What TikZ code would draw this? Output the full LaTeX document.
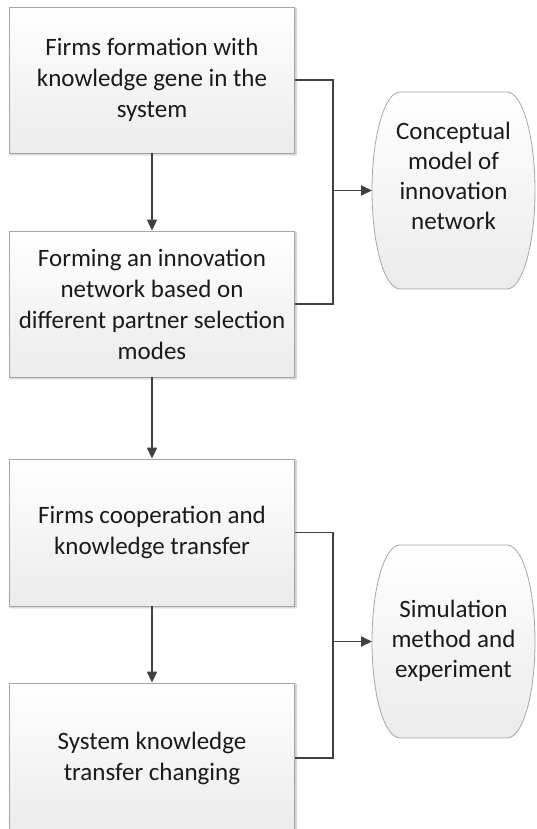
\documentclass[tikz,border=0pt]{standalone}
\usepackage{fontspec}
\setmainfont{Carlito}
\usepackage{xcolor}
\usetikzlibrary{
    arrows.meta,
    positioning,
    calc,
    shadows.blur
}
\definecolor{edge}{HTML}{A6A6A6}
\definecolor{wire}{HTML}{404040}
\definecolor{shadebot}{HTML}{EBEBEB}
\definecolor{ink}{HTML}{1A1A1A}
\tikzset{
    % Process box style
    stepbox/.style={
        rectangle,
        minimum width=285pt,
        minimum height=146pt,
        align=center,
        font=\fontsize{25}{31}\selectfont,
        text=ink,
        draw=edge,
        line width=0.8pt,
        top color=white,
        bottom color=shadebot,
        blur shadow={shadow blur steps=4, shadow xshift=1.5pt, shadow yshift=-1.5pt, shadow opacity=30}
    },
    % Result (pill) node, outline drawn separately
    result/.style={
        rectangle,
        minimum width=163pt,
        minimum height=#1,
        outer sep=0pt,
        align=center,
        font=\fontsize{25}{30}\selectfont,
        text=ink
    },
    pillfill/.style={
        draw=edge,
        line width=0.8pt,
        top color=white,
        bottom color=shadebot
    },
    % Arrow styles
    flow/.style={
        -{Triangle[length=11pt, width=10pt]},
        line width=1.8pt,
        color=wire
    },
    link/.style={
        line width=1.8pt,
        color=wire
    }
}
% curved-side outline round a result node
\newcommand\pillpath[1]{%
    ([xshift=28pt]#1.north west) -- ([xshift=-28pt]#1.north east)
    .. controls ([xshift=-12.5pt]#1.north east) and ([yshift=54pt]#1.east) .. (#1.east)
    .. controls ([yshift=-54pt]#1.east) and ([xshift=-12.5pt]#1.south east) .. ([xshift=-28pt]#1.south east)
    -- ([xshift=28pt]#1.south west)
    .. controls ([xshift=12.5pt]#1.south west) and ([yshift=-54pt]#1.west) .. (#1.west)
    .. controls ([yshift=54pt]#1.west) and ([xshift=12.5pt]#1.north west) .. cycle}

\begin{document}
\begin{tikzpicture}[x=1pt, y=-1pt]

        \clip (0,0) rectangle (536,829);

        % Process boxes
        \node[stepbox] (form) at (152, 80) {Firms formation with\\knowledge gene in the\\system};
        \node[stepbox] (net) at (152, 304) {Forming an innovation\\network based on\\different partner selection\\modes};
        \node[stepbox, minimum height=147pt] (coop) at (152, 532.5) {Firms cooperation and\\knowledge transfer};
        \node[stepbox, minimum height=150pt] (change) at (152, 758) {System knowledge\\transfer changing};

        % Results
        \node[result=197pt] (concept) at (453.5, 190.5) {};
        \node[result=193pt] (simu) at (453.5, 641.5) {};
        \path[pillfill] \pillpath{concept};
        \path[pillfill] \pillpath{simu};
        \node[font=\fontsize{25}{30}\selectfont, text=ink, align=center] (concepttext) at (453.5, 176) {Conceptual\\model of\\innovation\\network};
        \node[font=\fontsize{25}{30}\selectfont, text=ink, align=center] (simutext) at (453.5, 641) {Simulation\\method and\\experiment};

        % Junctions
        \coordinate (j1) at (333, 190.5);
        \coordinate (j2) at (333, 641.5);

        % Connections
        \draw[flow] (form) -- (net);
        \draw[flow] (net) -- (coop);
        \draw[flow] (coop) -- (change);

        \draw[link] (form.east) -| (j1) |- (net.east);
        \draw[link] (coop.east) -| (j2) |- (change.east);
        \draw[flow] (j1) -- (concept.west);
        \draw[flow] (j2) -- (simu.west);

    \end{tikzpicture}
\end{document}
